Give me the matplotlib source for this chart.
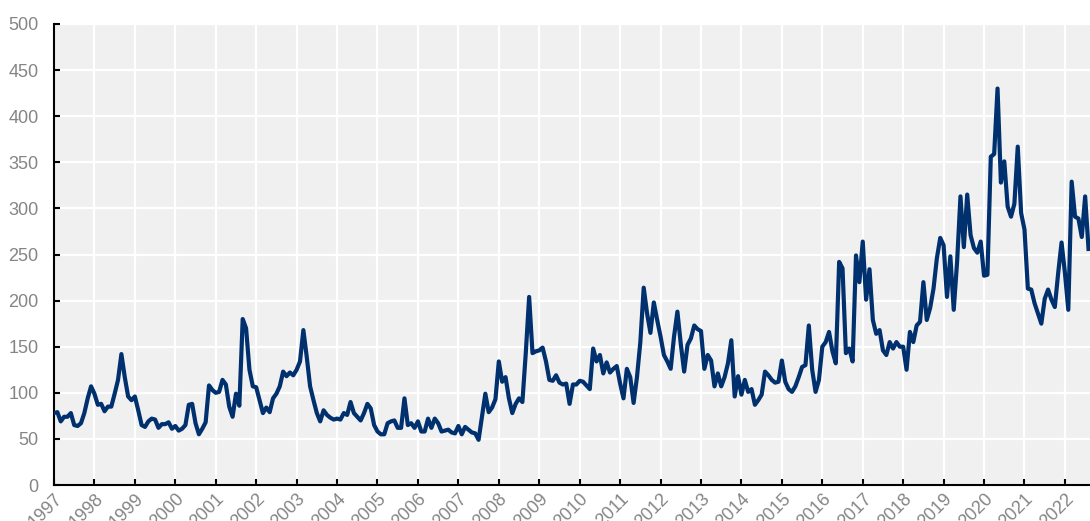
import numpy as np
import matplotlib
matplotlib.use("Agg")
import matplotlib.pyplot as plt

plt.rcParams['font.family'] = ['Liberation Sans', 'DejaVu Sans']

# monthly values, Jan 1997 .. Aug 2022
v1997 = [78, 79, 69, 74, 74, 78, 65, 64, 67, 78, 94, 107]
v1998 = [99, 87, 88, 80, 85, 85, 99, 114, 142, 117, 96, 92]
v1999 = [96, 81, 65, 63, 69, 72, 71, 62, 66, 66, 68, 61]
v2000 = [64, 59, 61, 65, 87, 88, 67, 55, 61, 68, 108, 103]
v2001 = [100, 101, 114, 109, 85, 74, 99, 86, 180, 170, 125, 107]
v2002 = [106, 92, 78, 84, 79, 94, 99, 107, 123, 118, 122, 119]
v2003 = [125, 134, 168, 139, 107, 92, 78, 69, 81, 76, 73, 71]
v2004 = [72, 71, 78, 76, 90, 78, 74, 70, 78, 88, 83, 65]
v2005 = [58, 55, 55, 67, 69, 70, 62, 62, 94, 65, 67, 62]
v2006 = [69, 58, 58, 72, 62, 72, 67, 58, 59, 60, 57, 56]
v2007 = [64, 55, 63, 60, 57, 56, 49, 74, 99, 79, 84, 93]
v2008 = [134, 112, 117, 94, 78, 88, 94, 90, 143, 204, 143, 145]
v2009 = [146, 149, 134, 114, 113, 119, 111, 109, 110, 88, 109, 109]
v2010 = [113, 112, 108, 104, 148, 134, 141, 121, 133, 122, 126, 129]
v2011 = [110, 94, 126, 117, 89, 117, 155, 214, 186, 165, 198, 179]
v2012 = [161, 141, 134, 126, 161, 188, 153, 123, 152, 159, 173, 169]
v2013 = [167, 126, 141, 135, 107, 121, 107, 117, 132, 157, 96, 118]
v2014 = [98, 114, 101, 104, 87, 92, 98, 123, 119, 114, 111, 112]
v2015 = [135, 112, 104, 101, 107, 117, 128, 130, 173, 125, 101, 114]
v2016 = [150, 155, 166, 145, 132, 242, 235, 143, 148, 134, 249, 220]
v2017 = [264, 201, 234, 179, 164, 168, 146, 141, 155, 148, 155, 150]
v2018 = [150, 125, 166, 155, 173, 177, 220, 179, 192, 213, 246, 268]
v2019 = [260, 204, 248, 190, 242, 313, 258, 315, 271, 257, 252, 264]
v2020 = [227, 228, 356, 359, 430, 328, 351, 302, 291, 305, 367, 295]
v2021 = [277, 213, 212, 197, 186, 175, 202, 212, 201, 193, 230, 263]
v2022 = [230, 190, 329, 291, 289, 269, 313, 256]

values = (v1997 + v1998 + v1999 + v2000 + v2001 + v2002 + v2003 + v2004
          + v2005 + v2006 + v2007 + v2008 + v2009 + v2010 + v2011 + v2012
          + v2013 + v2014 + v2015 + v2016 + v2017 + v2018 + v2019 + v2020
          + v2021 + v2022)
dates = 1997 + np.arange(len(values)) / 12.0

years = list(range(1997, 2023))
yticks = list(range(0, 501, 50))

fig = plt.figure(figsize=(10.9, 5.21), dpi=100)
ax = fig.add_axes([54 / 1090, 36 / 521, 1 - 54 / 1090, 461 / 521])
ax.set_facecolor('#f0f0f0')

ax.plot(dates, values, color='#00306e', lw=3.0, solid_joinstyle='round', zorder=3)

ax.set_xlim(1997, 2022.62)
ax.set_ylim(0, 500)
ax.set_xticks(years)
ax.set_xticklabels([str(y) for y in years], rotation=45, ha='right',
                   rotation_mode='anchor')
ax.set_yticks(yticks)

ax.grid(True, color='white', lw=1.6)
ax.set_axisbelow(True)

for s in ['top', 'right']:
    ax.spines[s].set_visible(False)
for s in ['left', 'bottom']:
    ax.spines[s].set_color('black')
    ax.spines[s].set_linewidth(1.5)

ax.tick_params(axis='both', direction='in', colors='black', labelcolor='#858585',
               labelsize=13, length=4.5, width=1.5)
ax.tick_params(axis='y', pad=11)
ax.tick_params(axis='x', pad=4)

fig.savefig('out.png', dpi=100)
